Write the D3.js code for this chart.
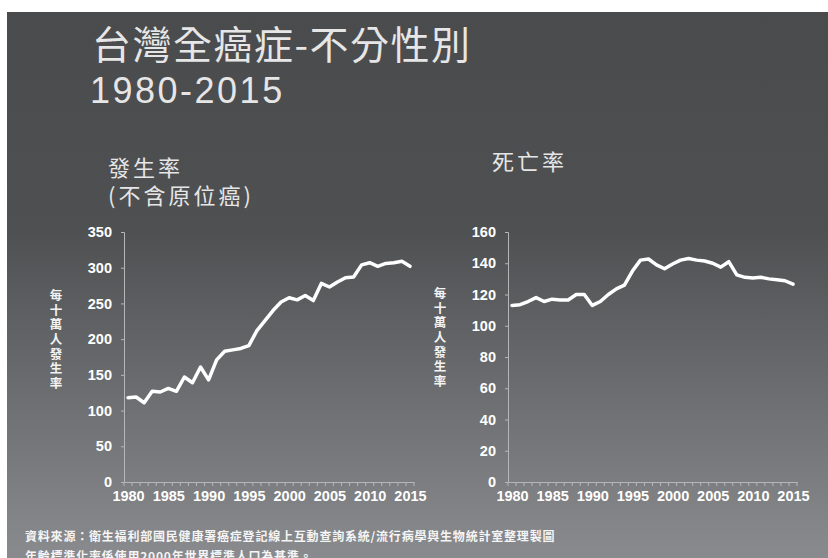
<!DOCTYPE html>
<html>
<head>
<meta charset="utf-8">
<script src="https://cdn.jsdelivr.net/npm/d3@7"></script>
<style>
  body { margin: 0; background: #fff; }
  svg { display: block; }
  .tick text { font-family: "Liberation Sans", Arial, sans-serif; font-weight: bold; fill: #fff; }
  .cjk { font-family: "Noto Sans CJK TC", "Noto Sans CJK SC", sans-serif; }
</style>
</head>
<body>
<svg id="chart" width="828" height="558"></svg>
<script>
var years = d3.range(1980, 2016)
var yearLabels = [1980, 1985, 1990, 1995, 2000, 2005, 2010, 2015]

// 發生率 (per 100k)
var incidence = [118, 119, 111, 127, 126, 131, 127, 147, 139, 161,
                 143, 171, 183, 185, 187, 191, 212, 226, 240, 252,
                 258, 255, 261, 254, 278, 273, 280, 286, 287, 304,
                 307, 302, 306, 307, 309, 302]

// 死亡率 (per 100k)
var mortality = [113, 113.5, 115.5, 118, 115.5, 117, 116.5, 116.5, 120, 120,
                 113, 115.5, 120, 123.6, 126, 135, 142, 142.7, 139, 136.5,
                 139.5, 142, 143, 142, 141.4, 140, 137.5, 141, 132.6, 131,
                 130.5, 131, 130, 129.4, 128.8, 126.6]

var incTicks = [0, 50, 100, 150, 200, 250, 300, 350]
var morTicks = [0, 20, 40, 60, 80, 100, 120, 140, 160]

var titleLine1 = '台灣全癌症-不分性別'
var titleLine2 = '1980-2015'
var incTitle = ['發生率', '(不含原位癌)']
var morTitle = '死亡率'
var yTitle = '每十萬人發生率'
var source1 = '資料來源：衛生福利部國民健康署癌症登記線上互動查詢系統/流行病學與生物統計室整理製圖'
var source2 = '年齡標準化率係使用2000年世界標準人口為基準。'

var svg = d3.select('#chart')

var grad = svg.append('defs').append('linearGradient')
  .attr('id', 'bg').attr('x1', 0).attr('y1', 0).attr('x2', 0).attr('y2', 1)
grad.append('stop').attr('offset', '0%').attr('stop-color', '#4a4b4d')
grad.append('stop').attr('offset', '40%').attr('stop-color', '#4f5052')
grad.append('stop').attr('offset', '100%').attr('stop-color', '#898b8e')

svg.append('rect').attr('x', 7).attr('y', 12).attr('width', 821).attr('height', 546)
  .attr('fill', 'url(#bg)')

// titles
svg.append('text').attr('class', 'cjk').attr('x', 92).attr('y', 59)
  .attr('font-size', 39).attr('letter-spacing', 1.5).attr('fill', '#e6e6e6')
  .text(titleLine1)
svg.append('text').attr('x', 90).attr('y', 103)
  .attr('font-family', '"Liberation Sans", Arial, sans-serif')
  .attr('font-size', 36).attr('letter-spacing', 2.5).attr('fill', '#e6e6e6')
  .text(titleLine2)

svg.append('text').attr('class', 'cjk').attr('y', 176)
  .attr('font-size', 22).attr('letter-spacing', 3).attr('fill', '#e6e6e6')
  .selectAll('tspan').data(incTitle).join('tspan')
  .attr('x', 108).attr('dy', function(d, i){ return i ? 28 : 0 })
  .text(function(d){ return d })
svg.append('text').attr('class', 'cjk').attr('x', 492).attr('y', 170)
  .attr('font-size', 22).attr('letter-spacing', 3).attr('fill', '#e6e6e6').text(morTitle)

function panel(opts){
  var x = d3.scalePoint().domain(years).range([opts.left, opts.right]).padding(0.5)
  var y = d3.scaleLinear().domain([0, opts.max]).range([482, 232])
  var step = x.step()

  var yAxis = svg.append('g').attr('transform', 'translate(' + opts.left + ',0)')
    .call(d3.axisLeft(y).tickValues(opts.ticks).tickSize(3).tickPadding(9))
  yAxis.selectAll('.tick text').attr('font-size', 14.5)

  var xAxis = svg.append('g').attr('transform', 'translate(0,482)')
    .call(d3.axisBottom(x).tickValues(yearLabels).tickSize(0).tickPadding(9))
  xAxis.selectAll('.tick text').attr('font-size', 14.5)

  svg.selectAll('.domain').attr('stroke', '#b5b6b8')
  svg.selectAll('.tick line').attr('stroke', '#b5b6b8')

  // small category ticks under the x axis
  var bounds = years.map(function(d){ return x(d) - step / 2 }).concat([x(2015) + step / 2])
  svg.append('g').selectAll('line').data(bounds).join('line')
    .attr('x1', function(d){ return d }).attr('x2', function(d){ return d })
    .attr('y1', 482).attr('y2', 486)
    .attr('stroke', '#b5b6b8').attr('stroke-width', 1)

  var line = d3.line()
    .x(function(d, i){ return x(years[i]) })
    .y(function(d){ return y(d) })

  svg.append('path').attr('d', line(opts.values))
    .attr('fill', 'none').attr('stroke', '#fff').attr('stroke-width', 3.5)
    .attr('stroke-linejoin', 'round').attr('stroke-linecap', 'round')

  // vertical axis title, one text written top to bottom
  svg.append('text').attr('class', 'cjk')
    .attr('x', opts.titleX).attr('y', opts.titleY)
    .attr('writing-mode', 'tb').attr('glyph-orientation-vertical', 0)
    .attr('font-size', 12.5).attr('font-weight', 'bold').attr('letter-spacing', 2.2)
    .attr('fill', '#f2f2f2')
    .text(yTitle)
}

panel({left: 124, right: 414, max: 350, ticks: incTicks, values: incidence, titleX: 56, titleY: 289})
panel({left: 508, right: 797, max: 160, ticks: morTicks, values: mortality, titleX: 440, titleY: 287})

svg.append('text').attr('class', 'cjk').attr('x', 25).attr('y', 541)
  .attr('font-size', 12).attr('font-weight', 'bold').attr('letter-spacing', 0.8)
  .attr('fill', '#f5f5f5').text(source1)
svg.append('text').attr('class', 'cjk').attr('x', 25).attr('y', 561)
  .attr('font-size', 12).attr('font-weight', 'bold').attr('letter-spacing', 0.8)
  .attr('fill', '#f5f5f5').text(source2)
</script>
</body>
</html>
